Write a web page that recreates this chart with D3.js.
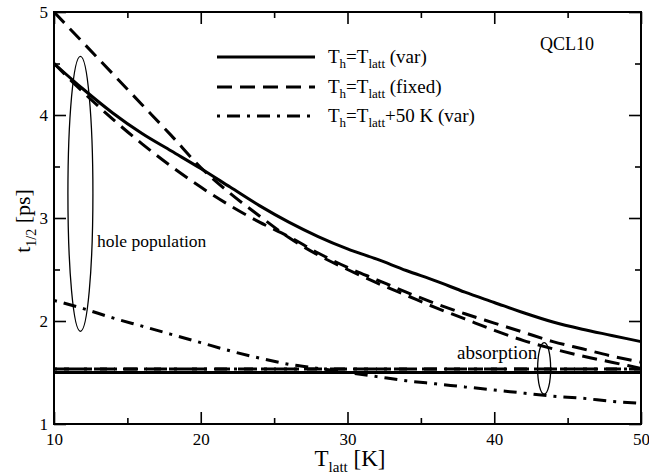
<!DOCTYPE html>
<html>
<head>
<meta charset="utf-8">
<script src="https://cdn.jsdelivr.net/npm/d3@7"></script>
<style>
  body { margin: 0; background: #fff; }
  svg text { font-family: "Liberation Serif", "DejaVu Serif", serif; fill: #000; }
</style>
</head>
<body>
<svg id="chart" width="649" height="474"></svg>
<script>
// values
const temps = [10, 12, 14, 16, 18, 20, 22, 24, 26, 28, 30, 32, 34, 36, 38, 40, 42, 44, 46, 48, 50]
const holeVar = [4.50, 4.25, 4.02, 3.82, 3.65, 3.48, 3.30, 3.12, 2.96, 2.82, 2.70, 2.60, 2.49, 2.39, 2.28, 2.18, 2.08, 1.99, 1.92, 1.86, 1.80]
const holeFixedA = [5.00, 4.70, 4.40, 4.10, 3.80, 3.49, 3.24, 3.02, 2.81, 2.64, 2.50, 2.37, 2.25, 2.13, 2.02, 1.91, 1.81, 1.73, 1.66, 1.60, 1.54]
const holeFixedB = [4.50, 4.22, 3.96, 3.72, 3.50, 3.30, 3.12, 2.96, 2.82, 2.66, 2.52, 2.40, 2.28, 2.17, 2.07, 1.98, 1.89, 1.80, 1.73, 1.66, 1.60]
const holeHot = [2.20, 2.12, 2.03, 1.95, 1.87, 1.79, 1.71, 1.64, 1.58, 1.54, 1.50, 1.46, 1.42, 1.39, 1.36, 1.33, 1.30, 1.27, 1.25, 1.22, 1.20]
const absTemps = [10, 50]
const absVar = [1.50, 1.50]
const absFixed = [1.535, 1.535]
const absHot = [1.535, 1.535]

const xTicks = [10, 20, 30, 40, 50]
const xMinor = [15, 25, 35, 45]
const yTicks = [1, 2, 3, 4, 5]
const yMinor = [1.5, 2.5, 3.5, 4.5]

const SERIF = '"Liberation Serif", "DejaVu Serif", serif'
const svg = d3.select('#chart')
const x = d3.scaleLinear().domain([10, 50]).range([54, 641])
const y = d3.scaleLinear().domain([1, 5]).range([424, 12])

const DASH = "15,8"
const DASHDOT = "3,7,13,7"

// axes, ticks inward on all sides
const addAxis = (axis, transform, labels) => {
    const g = svg.append('g').attr('transform', transform).call(axis)
        .attr('font-family', SERIF).attr('font-size', 17)
    g.select('.domain').remove()
    g.selectAll('line').attr('stroke', '#000').attr('stroke-width', 1.6)
    if (!labels) g.selectAll('text').remove()
    else g.selectAll('text').attr('font-family', SERIF).attr('fill', '#000')
    return g
}
addAxis(d3.axisBottom(x).tickValues(xTicks).tickSize(-12).tickPadding(9).tickFormat(d3.format('d')), 'translate(0,424)', true)
addAxis(d3.axisBottom(x).tickValues(xMinor).tickSize(-6), 'translate(0,424)', false)
addAxis(d3.axisTop(x).tickValues(xTicks).tickSize(-12), 'translate(0,12)', false)
addAxis(d3.axisTop(x).tickValues(xMinor).tickSize(-6), 'translate(0,12)', false)
addAxis(d3.axisLeft(y).tickValues(yTicks).tickSize(-12).tickPadding(6).tickFormat(d3.format('d')), 'translate(54,0)', true)
addAxis(d3.axisLeft(y).tickValues(yMinor).tickSize(-6), 'translate(54,0)', false)
addAxis(d3.axisRight(y).tickValues(yTicks).tickSize(-12), 'translate(641,0)', false)
addAxis(d3.axisRight(y).tickValues(yMinor).tickSize(-6), 'translate(641,0)', false)

svg.append('rect')
    .attr('x', 54).attr('y', 12)
    .attr('width', 641 - 54).attr('height', 424 - 12)
    .attr('fill', 'none').attr('stroke', '#000').attr('stroke-width', 2)

// curves
const line = d3.line()
    .x(d => x(d[0]))
    .y(d => y(d[1]))
    .curve(d3.curveMonotoneX)

const series = [
    { t: temps, v: holeVar, dash: null },
    { t: temps, v: holeFixedA, dash: DASH },
    { t: temps, v: holeFixedB, dash: DASH },
    { t: temps, v: holeHot, dash: DASHDOT },
    { t: absTemps, v: absVar, dash: null },
    { t: absTemps, v: absFixed, dash: DASH },
    { t: absTemps, v: absHot, dash: DASHDOT }
]

svg.append('g').selectAll('path')
    .data(series)
    .enter()
    .append('path')
    .attr('d', s => line(s.t.map((t, i) => [t, s.v[i]])))
    .attr('fill', 'none')
    .attr('stroke', '#000')
    .attr('stroke-width', 3)
    .attr('stroke-dasharray', s => s.dash)

// ellipses marking the groups
svg.append('ellipse')
    .attr('cx', x(11.8)).attr('cy', y(3.235))
    .attr('rx', 12.5).attr('ry', y(1.9) - y(3.235))
    .attr('fill', 'none').attr('stroke', '#000').attr('stroke-width', 1.3)
svg.append('ellipse')
    .attr('cx', x(43.4)).attr('cy', y(1.54))
    .attr('rx', 6.5).attr('ry', y(1.29) - y(1.54))
    .attr('fill', 'none').attr('stroke', '#000').attr('stroke-width', 1.3)

svg.append('text').attr('x', 97).attr('y', 247).style('font-size', '17.5px').text('hole population')
svg.append('text').attr('x', 457).attr('y', 359).style('font-size', '19px').text('absorption')
svg.append('text').attr('x', 540).attr('y', 50).style('font-size', '18px').text('QCL10')

// legend
const legendRows = [
    { dash: null, tail: ' (var)', y: 57 },
    { dash: DASH, tail: ' (fixed)', y: 87 },
    { dash: DASHDOT, tail: '+50 K (var)', y: 116 }
]
legendRows.forEach(r => {
    svg.append('line')
        .attr('x1', 217).attr('x2', 315)
        .attr('y1', r.y).attr('y2', r.y)
        .attr('stroke', '#000').attr('stroke-width', 3)
        .attr('stroke-dasharray', r.dash)
    const t = svg.append('text').attr('x', 328).attr('y', r.y + 6).style('font-size', '19px')
    t.append('tspan').text('T')
    t.append('tspan').attr('dy', 5).style('font-size', '13px').text('h')
    t.append('tspan').attr('dy', -5).text('=T')
    t.append('tspan').attr('dy', 5).style('font-size', '13px').text('latt')
    t.append('tspan').attr('dy', -5).text(r.tail)
})

// axis titles
const xt = svg.append('text').attr('x', 350).attr('y', 466)
    .attr('text-anchor', 'middle').style('font-size', '23px')
xt.append('tspan').text('T')
xt.append('tspan').attr('dy', 6).style('font-size', '15px').text('latt')
xt.append('tspan').attr('dy', -6).text(' [K]')

const yt = svg.append('text')
    .attr('transform', 'translate(30,221) rotate(-90)')
    .attr('text-anchor', 'middle').style('font-size', '22px')
yt.append('tspan').text('t')
yt.append('tspan').attr('dy', 6).style('font-size', '14px').text('1/2')
yt.append('tspan').attr('dy', -6).text(' [ps]')
</script>
</body>
</html>
